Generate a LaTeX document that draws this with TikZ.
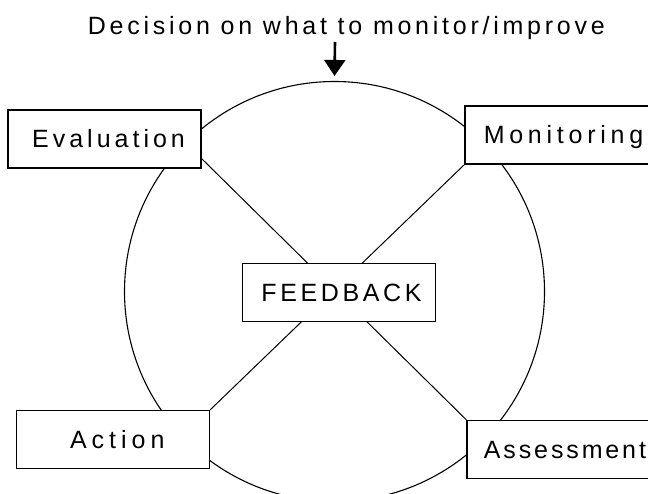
\documentclass[tikz,border=0pt]{standalone}
\usepackage{fontspec}
\setmainfont{Liberation Sans}
\usetikzlibrary{arrows.meta,backgrounds}
\newcommand{\spaced}[3]{{\addfontfeature{LetterSpace=#1}\kern#2pt #3}}
\begin{document}
\begin{tikzpicture}[x=1pt,y=-1pt,
  lbl/.style={font=\fontsize{25}{30}\selectfont},
  box/.style={lbl, draw, line width=1.2pt, fill=white, minimum width=193pt,
    minimum height=58pt, inner sep=0pt, text height=18pt, text depth=0pt},
  ring/.style={circle, draw, line width=1.1pt, minimum size=420pt, inner sep=0pt},
  spoke/.style={line width=1pt},
  pointer/.style={line width=2.6pt, -{Triangle[length=16pt,width=21pt]}}]
\useasboundingbox (0,0) rectangle (648,494);
\clip (0,0) rectangle (648,494);
\node[lbl, anchor=base, inner sep=0pt] (title) at (344.5,35) {\spaced{15}{3.7}{Decision on what to monitor/improve}};
\node[box] (eval) at (104.5,139) {\spaced{16}{8}{Evaluation}};
\node[box] (mon) at (561.5,135) {\spaced{19}{4}{Monitoring}};
\node[box] (fb) at (339,292.5) {\spaced{14.5}{5}{FEEDBACK}};
\node[box] (act) at (113,439.5) {\spaced{20}{8.5}{Action}};
\node[box] (ass) at (563.5,449.5) {\spaced{11.5}{2.9}{Assessment}};
\begin{pgfonlayer}{background}
  \node[ring] (cyc) at (334.5,291.5) {};
  \draw[spoke] ([yshift=10pt]eval.south east) -- (ass.north west);
  \draw[spoke] (mon.south west) -- (act.north east);
\end{pgfonlayer}
\coordinate (tail) at (335,42);
\draw[pointer] (tail) -- ([yshift=5pt]cyc.north);
\end{tikzpicture}
\end{document}
